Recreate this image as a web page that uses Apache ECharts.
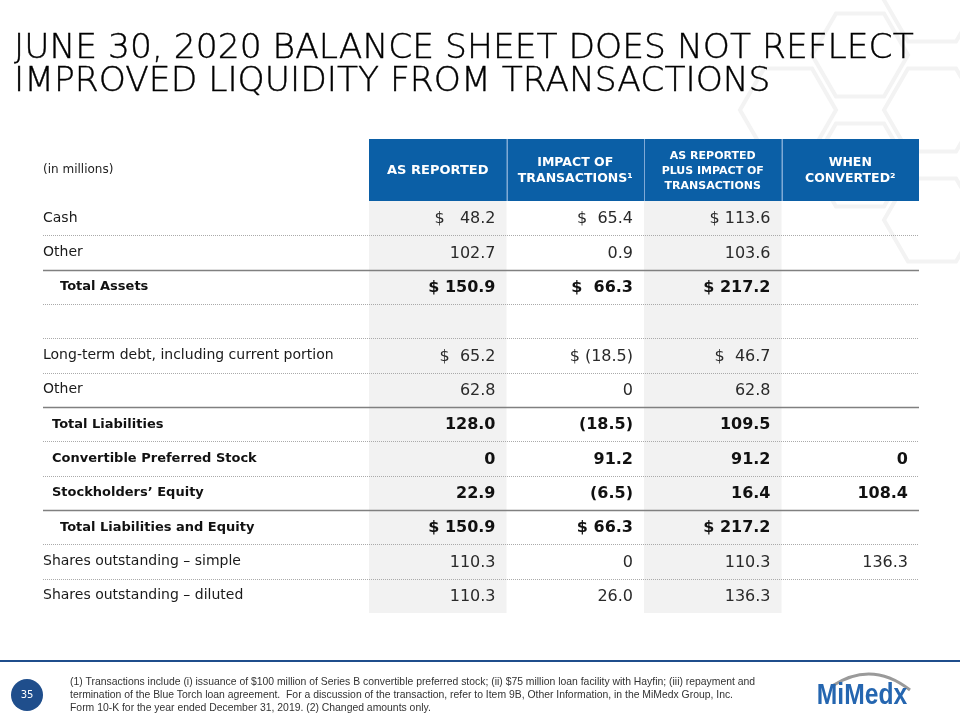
<!DOCTYPE html>
<html><head><meta charset="utf-8">
<script src="https://cdn.jsdelivr.net/npm/echarts@6/dist/echarts.min.js"></script>
<style>html,body{margin:0;padding:0;background:#fff}#c{width:960px;height:720px}</style>
</head><body><div id="c"></div><script>
// ---------- data ----------
const titleLines = ['JUNE 30, 2020 BALANCE SHEET DOES NOT REFLECT', 'IMPROVED LIQUIDITY FROM TRANSACTIONS'];
const unitLabel = '(in millions)';
const columns = ['AS REPORTED', 'IMPACT OF\nTRANSACTIONS¹', 'AS REPORTED\nPLUS IMPACT OF\nTRANSACTIONS', 'WHEN\nCONVERTED²'];
const rowLabels = ['Cash', 'Other', 'Total Assets', '', 'Long-term debt, including current portion', 'Other',
  'Total Liabilities', 'Convertible Preferred Stock', 'Stockholders’ Equity', 'Total Liabilities and Equity',
  'Shares outstanding – simple', 'Shares outstanding – diluted'];
const rowKinds = ['item', 'item', 'grand', 'blank', 'item', 'item', 'total', 'sub', 'sub', 'grand', 'item', 'item'];
const asReported    = ['$   48.2', '102.7', '$ 150.9', '', '$  65.2', '62.8', '128.0', '0', '22.9', '$ 150.9', '110.3', '110.3'];
const impactOfTx    = ['$  65.4', '0.9', '$  66.3', '', '$ (18.5)', '0', '(18.5)', '91.2', '(6.5)', '$ 66.3', '0', '26.0'];
const plusImpact    = ['$ 113.6', '103.6', '$ 217.2', '', '$  46.7', '62.8', '109.5', '91.2', '16.4', '$ 217.2', '110.3', '136.3'];
const whenConverted = ['', '', '', '', '', '', '', '0', '108.4', '', '136.3', ''];
const footnotes = [
  '(1) Transactions include (i) issuance of $100 million of Series B convertible preferred stock; (ii) $75 million loan facility with Hayfin; (iii) repayment and',
  'termination of the Blue Torch loan agreement.  For a discussion of the transaction, refer to Item 9B, Other Information, in the MiMedx Group, Inc.',
  'Form 10-K for the year ended December 31, 2019. (2) Changed amounts only.'
];
const pageNumber = '35';
const logoText = 'MiMedx';

// ---------- build ----------
const valueColumns = [asReported, impactOfTx, plusImpact, whenConverted];
const cellData = [];
valueColumns.forEach((col, c) => col.forEach((t, r) => { if (t !== '') cellData.push([c, r, t]); }));
const sepData = rowKinds.map((k, r) => [0, r]).slice(1);
const headerData = columns.map((_, c) => [c, 0]);

const FONT = 'DejaVu Sans';
const BLUE = '#0B5FA6';
const isBold = k => k === 'grand' || k === 'total' || k === 'sub';

const chart = echarts.init(document.getElementById('c'), null, { renderer: 'canvas' });

// faint hexagon decoration
function hex(cx, cy, r) {
  const pts = [];
  for (let i = 0; i < 6; i++) { const a = Math.PI / 3 * i; pts.push([cx + r * Math.cos(a), cy + r * Math.sin(a)]); }
  return { type: 'polygon', z: -10, silent: true, shape: { points: pts }, style: { fill: 'none', stroke: '#f3f3f3', lineWidth: 4 } };
}

const option = {
  backgroundColor: '#ffffff',
  animation: false,
  title: {
    text: titleLines.join('\n'),
    left: 9, top: 28,
    textStyle: { fontFamily: FONT, fontWeight: 200, fontSize: 34.5, lineHeight: 33, color: '#000', textBorderColor: '#000', textBorderWidth: 0.4 }
  },
  grid: [
    { left: 369, right: 41, top: 201, height: 412 },   // values
    { left: 43, right: 41, top: 201, height: 412 },    // separators
    { left: 369, right: 41, top: 139, height: 62 }     // header
  ],
  xAxis: [
    { gridIndex: 0, type: 'category', data: columns, axisLine: { show: false }, axisTick: { show: false }, axisLabel: { show: false },
      splitLine: { show: false }, splitArea: { show: true, interval: 0, areaStyle: { color: ['#F2F2F2', 'rgba(255,255,255,0)'] } } },
    { gridIndex: 1, type: 'value', min: 0, max: 1, show: false },
    { gridIndex: 2, type: 'category', data: columns, show: false }
  ],
  yAxis: [
    { gridIndex: 0, type: 'category', data: rowLabels, inverse: true, axisLine: { show: false }, axisTick: { show: false },
      splitLine: { show: false },
      axisLabel: {
        interval: 0, align: 'left', margin: 326,
        formatter: (v, i) => v === '' ? '' : '{' + (rowKinds[i] === 'grand' ? 'g' : isBold(rowKinds[i]) ? 'b' : 'n') + '|' + v + '}',
        rich: {
          n: { fontFamily: FONT, fontSize: 14, color: '#1a1a1a' },
          b: { fontFamily: FONT, fontSize: 13, fontWeight: 'bold', color: '#111', padding: [0, 0, 0, 9] },
          g: { fontFamily: FONT, fontSize: 13, fontWeight: 'bold', color: '#111', padding: [0, 0, 0, 17] }
        }
      } },
    { gridIndex: 1, type: 'category', data: rowLabels, inverse: true, show: false },
    { gridIndex: 2, type: 'category', data: [unitLabel], axisLine: { show: false }, axisTick: { show: false },
      axisLabel: { align: 'left', margin: 326, fontFamily: FONT, fontSize: 12, color: '#222' } }
  ],
  series: [
    { // separators
      type: 'custom', xAxisIndex: 1, yAxisIndex: 1, data: sepData, z: 5, silent: true,
      renderItem(params, api) {
        const r = api.value(1);
        const p0 = api.coord([0, r]), p1 = api.coord([1, r]);
        const h = api.size([0, 1])[1];
        const y = Math.round(p0[1] - h / 2) + 0.5;
        const solid = rowKinds[r] === 'grand' || rowKinds[r] === 'total';
        return { type: 'line', shape: { x1: p0[0], y1: y, x2: p1[0], y2: y },
          style: solid ? { stroke: '#808080', lineWidth: 1.5 } : { stroke: '#aaaaaa', lineWidth: 1, lineDash: [1, 1] } };
      }
    },
    { // values
      type: 'custom', xAxisIndex: 0, yAxisIndex: 0, data: cellData.map(d => [d[0], d[1]]), z: 10, silent: true,
      renderItem(params, api) {
        const c = api.value(0), r = api.value(1);
        const p = api.coord([c, r]);
        const w = api.size([1, 0])[0];
        const bold = isBold(rowKinds[r]);
        return { type: 'text', style: { x: p[0] + w / 2 - 11, y: p[1] + 1, text: cellData[params.dataIndex][2], align: 'right', verticalAlign: 'middle',
          fontFamily: FONT, fontSize: 16, fontWeight: bold ? 'bold' : 'normal', fill: bold ? '#111' : '#2a2a2a' } };
      }
    },
    { // header
      type: 'custom', xAxisIndex: 2, yAxisIndex: 2, data: headerData, z: 10, silent: true,
      renderItem(params, api) {
        const c = api.value(0);
        const p = api.coord([c, 0]);
        const w = api.size([1, 0])[0], h = api.size([0, 1])[1];
        const lines = columns[c].split('\n').length;
        const children = [
          { type: 'rect', shape: { x: p[0] - w / 2, y: p[1] - h / 2, width: w, height: h }, style: { fill: BLUE } },
          { type: 'text', style: { x: p[0], y: p[1] + 1, text: columns[c], align: 'center', verticalAlign: 'middle',
            fontFamily: FONT, fontWeight: 'bold', fontSize: lines === 3 ? 11 : (lines === 2 ? 12.5 : 13), lineHeight: lines === 3 ? 15 : 16, fill: '#fff' } }
        ];
        if (c > 0) children.push({ type: 'line', shape: { x1: Math.round(p[0] - w / 2) + 0.5, y1: p[1] - h / 2, x2: Math.round(p[0] - w / 2) + 0.5, y2: p[1] + h / 2 },
          style: { stroke: '#7fa9d6', lineWidth: 1 } });
        return { type: 'group', children };
      }
    }
  ],
  graphic: [
    hex(860, 55, 48), hex(932, 110, 48), hex(860, 165, 48), hex(932, 0, 48), hex(788, 110, 48), hex(932, 220, 48),
    { type: 'rect', silent: true, shape: { x: 0, y: 660, width: 960, height: 2 }, style: { fill: '#1F4E8C' } },
    { type: 'circle', silent: true, shape: { cx: 27, cy: 695, r: 16 }, style: { fill: '#1F4E8C' } },
    { type: 'text', silent: true, style: { x: 27, y: 695, text: pageNumber, align: 'center', verticalAlign: 'middle', fontFamily: FONT, fontSize: 10, fill: '#fff' } },
    { type: 'text', silent: true, x: 70, y: 676,
      style: { x: 0, y: 0, text: footnotes.join('\n'), fontFamily: 'Liberation Sans', fontSize: 10.4, lineHeight: 13, fill: '#333' } },
    { type: 'bezierCurve', silent: true, shape: { x1: 832, y1: 686, cpx1: 872, cpy1: 660, x2: 910, y2: 690 }, style: { stroke: '#9a9a9a', lineWidth: 3, fill: 'none' } },
    { type: 'text', silent: true, x: 862, y: 696, scaleX: 0.85,
      style: { x: 0, y: 0, text: logoText, align: 'center', verticalAlign: 'middle', fontFamily: 'Liberation Sans', fontWeight: 'bold', fontSize: 29, fill: '#2566B0' } }
  ]
};
chart.setOption(option);
</script></body></html>
